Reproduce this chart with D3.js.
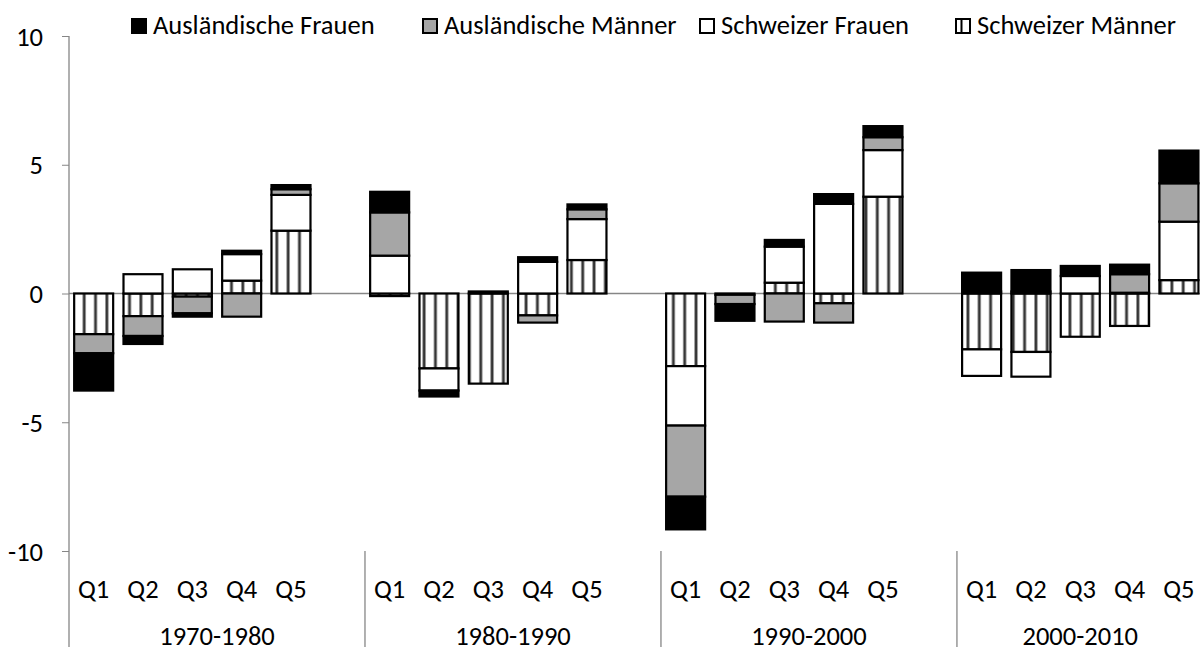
<!DOCTYPE html>
<html><head><meta charset="utf-8">
<script src="https://cdn.jsdelivr.net/npm/d3@7"></script>
<style>
body{margin:0;background:#fff}
svg{display:block}
text{font-family: Carlito, Calibri, "Open Sans", sans-serif; fill:#000}
</style>
</head><body><svg id="c" width="1200" height="647"></svg>
<script>
// ---- data ----
const decades = ["1970-1980", "1980-1990", "1990-2000", "2000-2010"];
const quarters = ["Q1", "Q2", "Q3", "Q4", "Q5"];
const seriesNames = ["Ausländische Frauen", "Ausländische Männer", "Schweizer Frauen", "Schweizer Männer"];
// values in decade order, Q1..Q5 within each decade
const auslFrauen   = [-1.45, -0.31, -0.13, 0.13, 0.16,   0.80, -0.23, 0.08, 0.18, 0.19,   -1.27, -0.65, 0.26, 0.38, 0.43,   0.73, 0.83, 0.39, 0.37, 1.27];
const auslMaenner  = [-0.74, -0.77, -0.65, -0.90, 0.22,  1.68, 0.00, 0.00, -0.28, 0.38,   -2.76, -0.36, -1.09, -0.75, 0.50,  0.08, 0.08, 0.00, 0.72, 1.49];
const schwFrauen   = [0.00, 0.75, 0.94, 1.03, 1.39,      1.47, -0.86, 0.00, 1.23, 1.59,    -2.31, 0.00, 1.40, 3.48, 1.81,    -1.03, -0.96, 0.68, 0.03, 2.27];
const schwMaenner  = [-1.58, -0.88, -0.12, 0.50, 2.44,   -0.10, -2.91, -3.50, -0.85, 1.30, -2.82, -0.05, 0.42, -0.38, 3.76,  -2.17, -2.27, -1.68, -1.26, 0.52];
const yTicks = [10, 5, 0, -5, -10];

// ---- build table ----
const rows = [];
const domain = [];
decades.forEach((d, i) => {
  quarters.forEach((q, j) => {
    const k = i * quarters.length + j;
    const key = d + "|" + q;
    domain.push(key);
    rows.push({key, decade: d, quarter: q,
      AF: auslFrauen[k], AM: auslMaenner[k], SF: schwFrauen[k], SM: schwMaenner[k]});
  });
  if (i < decades.length - 1) domain.push("gap" + i);
});

const FS = 26.5;
const svg = d3.select("#c");
const defs = svg.append("defs");
const pat = defs.append("pattern").attr("id", "stripes")
  .attr("patternUnits", "userSpaceOnUse").attr("width", 11.33).attr("height", 10).attr("x", 3);
pat.append("rect").attr("width", 11.33).attr("height", 10).attr("fill", "#fff");
pat.append("rect").attr("x", 0).attr("width", 1).attr("height", 10).attr("fill", "#9a9a9a");
pat.append("rect").attr("x", 1).attr("width", 1.8).attr("height", 10).attr("fill", "#2a2a2a");
pat.append("rect").attr("x", 2.8).attr("width", 1).attr("height", 10).attr("fill", "#9a9a9a");

const left = 69, slot = 49.33;
const x = d3.scaleBand().domain(domain).range([left, left + domain.length * slot]).padding(0);
const y = d3.scaleLinear().domain([-10, 10]).range([551, 36]);
const barW = 39;

const keys = ["SM", "SF", "AM", "AF"];
const fills = {AF: "#000", AM: "#a6a6a6", SF: "#fff", SM: "url(#stripes)"};
const stack = d3.stack().keys(keys).offset(d3.stackOffsetDiverging)(rows);

// zero line
const axisColor = "#868686";
svg.append("line").attr("x1", left).attr("x2", 1200).attr("y1", y(0)).attr("y2", y(0))
  .attr("stroke", axisColor).attr("stroke-width", 1.3);

// bars
stack.forEach(layer => {
  svg.append("g").selectAll("rect").data(layer.filter(d => Math.abs(d[1] - d[0]) > 1e-9)).join("rect")
    .attr("x", d => x(d.data.key) + (x.bandwidth() - barW) / 2)
    .attr("width", barW)
    .attr("y", d => y(Math.max(d[0], d[1])))
    .attr("height", d => Math.abs(y(d[0]) - y(d[1])))
    .attr("fill", fills[layer.key])
    .attr("stroke", "#000").attr("stroke-width", 2.2);
});

// y axis
const yAxis = d3.axisLeft(y).tickValues(yTicks).tickSize(7).tickPadding(19).tickFormat(d => String(d));
const gy = svg.append("g").attr("transform", `translate(${left},0)`).call(yAxis);
gy.select(".domain").remove();
gy.selectAll(".tick line").attr("stroke", axisColor);
gy.selectAll(".tick text").attr("font-size", FS).style("font-family", "Carlito, Calibri, 'Open Sans', sans-serif")
  .attr("fill", "#000").attr("dy", "0.34em");
svg.append("line").attr("x1", left).attr("x2", left).attr("y1", 36).attr("y2", 647)
  .attr("stroke", axisColor).attr("stroke-width", 1.3);

// category labels
svg.append("g").selectAll("text").data(rows).join("text")
  .attr("x", d => x(d.key) + x.bandwidth() / 2).attr("y", 598)
  .attr("text-anchor", "middle").attr("font-size", FS).text(d => d.quarter);

// group labels & separators
decades.forEach((d, i) => {
  const first = x(d + "|" + quarters[0]);
  const lastKey = (i < decades.length - 1) ? "gap" + i : d + "|" + quarters[quarters.length - 1];
  const end = x(lastKey) + x.bandwidth();
  svg.append("text").attr("x", (first + end) / 2).attr("y", 645)
    .attr("text-anchor", "middle").attr("font-size", FS).text(d);
  if (i > 0) {
    svg.append("line").attr("x1", first).attr("x2", first).attr("y1", 551).attr("y2", 647)
      .attr("stroke", axisColor).attr("stroke-width", 1.3);
  }
});

// legend
const legendX = [131, 422, 699, 955];
const legendFill = ["#000", "#a6a6a6", "#fff", "#fff"];
const lg = svg.append("g");
seriesNames.forEach((name, i) => {
  const g = lg.append("g").attr("transform", `translate(${legendX[i]},18)`);
  g.append("rect").attr("x", 1).attr("y", 1).attr("width", 14).attr("height", 14)
    .attr("fill", legendFill[i]).attr("stroke", "#000").attr("stroke-width", 2);
  if (i === 3) {
    g.append("line").attr("x1", 6.5).attr("x2", 6.5).attr("y1", 1).attr("y2", 15)
      .attr("stroke", "#000").attr("stroke-width", 2);
  }
  g.append("text").attr("x", 22).attr("y", 16).attr("font-size", FS).text(name);
});
</script>
</body></html>
